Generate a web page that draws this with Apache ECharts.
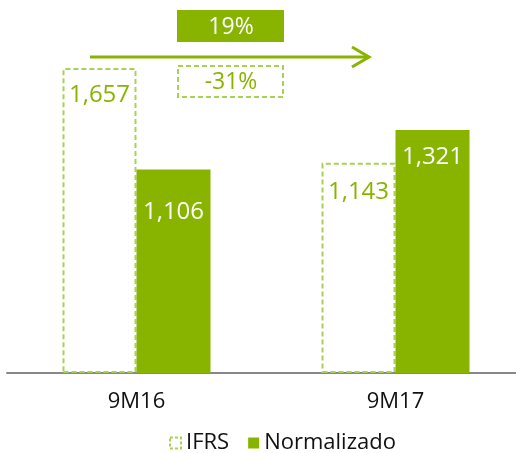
<!DOCTYPE html>
<html>
<head>
<meta charset="utf-8">
<script src="https://cdn.jsdelivr.net/npm/echarts@6/dist/echarts.min.js"></script>
<style>html,body{margin:0;padding:0;background:#fff;}#c{width:516px;height:453px;}</style>
</head>
<body>
<div id="c"></div>
<script>
const categories = ['9M16', '9M17'];
const ifrsValues = [1657, 1143];
const normValues = [1106, 1321];
const changeLabels = ['19%', '-31%'];

const GREEN = '#88b400';
const LIGHT = '#a8d155';
const FONT = '"Open Sans", "Noto Sans", sans-serif';
const fmt = v => v.toLocaleString('en-US');

const chart = echarts.init(document.getElementById('c'));
chart.setOption({
  animation: false,
  grid: { left: 7, width: 518, top: 5, bottom: 80, outerBoundsMode: 'none', containLabel: false },
  legend: {
    top: 427, left: 164, itemWidth: 11, itemHeight: 11, itemGap: 19,
    textStyle: { fontFamily: FONT, fontSize: 22, color: '#111' },
    data: [
      { name: 'IFRS', icon: 'rect', itemStyle: { color: '#fff', borderColor: LIGHT, borderWidth: 2, borderType: [3, 2] } },
      { name: 'Normalizado', icon: 'rect', itemStyle: { color: GREEN } }
    ]
  },
  xAxis: {
    type: 'category', data: categories,
    axisLine: { lineStyle: { color: '#888', width: 2 } },
    axisTick: { show: false },
    axisLabel: { fontFamily: FONT, fontSize: 22, color: '#111', margin: 18 }
  },
  yAxis: { type: 'value', min: 0, max: 2000, show: false, splitLine: { show: false } },
  series: [
    {
      name: 'IFRS', type: 'bar', barWidth: 74, barGap: '0%',
      itemStyle: { color: '#fff', borderColor: LIGHT, borderWidth: 2, borderType: [5, 3] },
      data: ifrsValues.map((v, i) => ({ value: v, label: { distance: [15, 17][i] } })),
      label: { show: true, position: 'insideTop', formatter: p => fmt(p.value), fontFamily: FONT, fontSize: 24, lineHeight: 24, color: GREEN }
    },
    {
      name: 'Normalizado', type: 'bar', barWidth: 74,
      itemStyle: { color: GREEN },
      data: normValues.map((v, i) => ({ value: v, label: { distance: [31, 15][i] } })),
      label: { show: true, position: 'insideTop', formatter: p => fmt(p.value), fontFamily: FONT, fontSize: 24, lineHeight: 24, color: '#fff' }
    }
  ],
  graphic: [
    { type: 'rect', shape: { x: 177, y: 10, width: 107, height: 32 }, style: { fill: GREEN } },
    { type: 'text', x: 231, y: 27, style: { text: changeLabels[0], fill: '#fff', font: '23px ' + FONT, align: 'center', verticalAlign: 'middle' } },
    { type: 'line', shape: { x1: 90, y1: 57, x2: 369, y2: 57 }, style: { stroke: GREEN, lineWidth: 3 } },
    { type: 'polyline', shape: { points: [[352, 47], [369, 57], [352, 67]] }, style: { stroke: GREEN, lineWidth: 3, fill: null } },
    { type: 'rect', shape: { x: 178, y: 66, width: 105, height: 31 }, style: { fill: '#fff', stroke: LIGHT, lineWidth: 2, lineDash: [5, 3] } },
    { type: 'text', x: 231, y: 82, style: { text: changeLabels[1], fill: GREEN, font: '23px ' + FONT, align: 'center', verticalAlign: 'middle' } }
  ]
});
</script>
</body>
</html>
